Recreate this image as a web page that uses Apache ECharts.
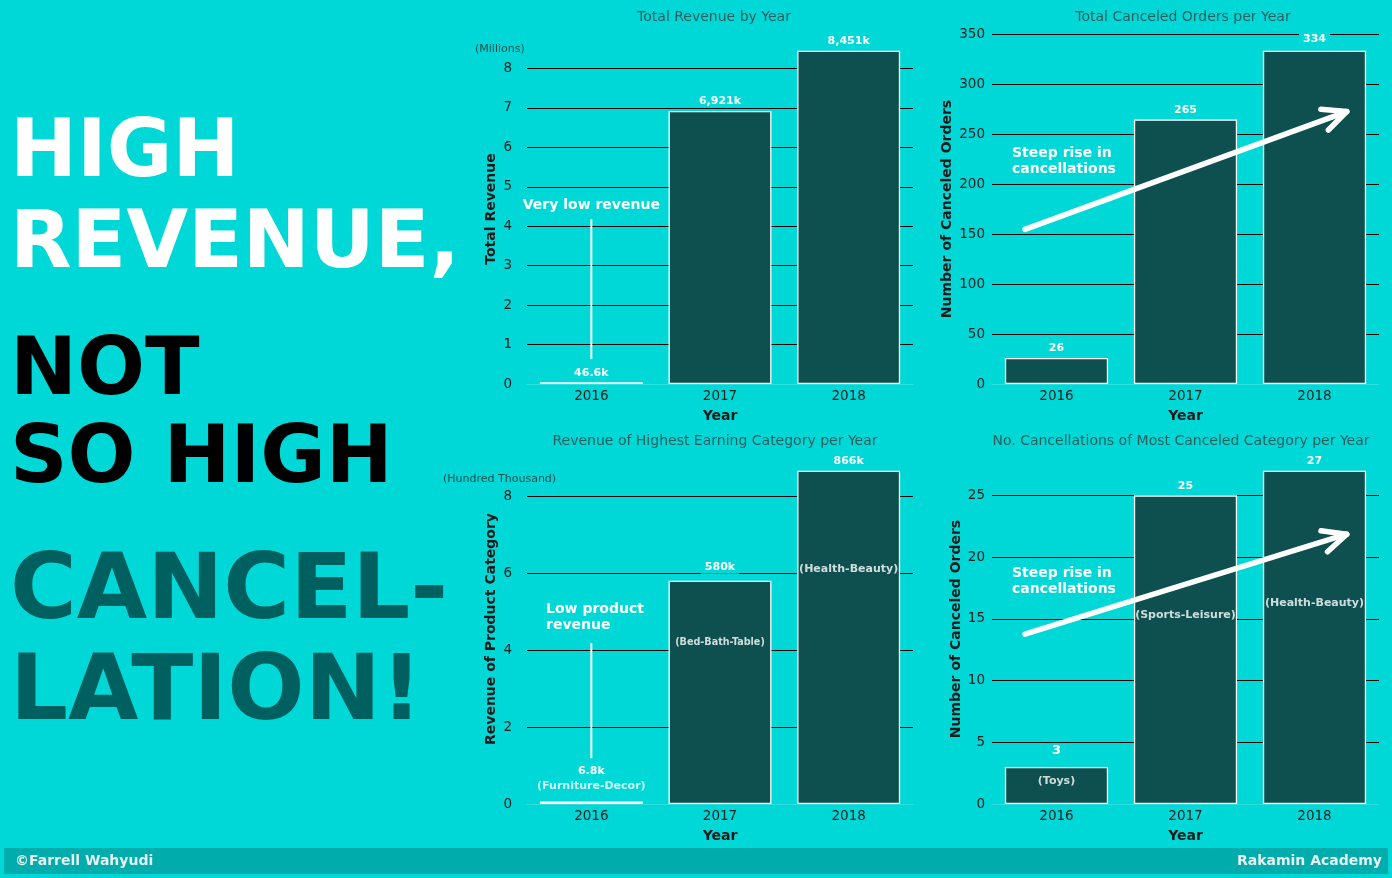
<!DOCTYPE html>
<html>
<head>
<meta charset="utf-8">
<script src="https://cdn.jsdelivr.net/npm/echarts@6/dist/echarts.min.js"></script>
<style>
  html, body { margin: 0; padding: 0; background: #00D8D8; }
  #main { width: 1392px; height: 878px; }
</style>
</head>
<body>
<div id="main"></div>
<script>
// data
const years = ['2016', '2017', '2018'];

const revenueMillions = [0.0466, 6.921, 8.451];
const revenueLabels = ['46.6k', '6,921k', '8,451k'];

const canceledOrders = [26, 265, 334];

const topCategoryRevenue = [0.068, 5.80, 8.66];   // hundred thousand
const topCategoryRevenueLabels = ['6.8k', '580k', '866k'];
const topCategoryNames = ['(Furniture-Decor)', '(Bed-Bath-Table)', '(Health-Beauty)'];

const topCanceledCount = [3, 25, 27];
const topCanceledNames = ['(Toys)', '(Sports-Leisure)', '(Health-Beauty)'];

// where the category names sit (data units)
const topCategoryNameY = [0.47, 4.21, 6.10];
const topCanceledNameY = [1.86, 15.3, 16.3];

const FONT = 'DejaVu Sans';
const BG = '#00D8D8';
const BAR = '#0E5050';

var chartDom = document.getElementById('main');
var myChart = echarts.init(chartDom);

// matplotlib style headroom: 5% above the tallest bar
function headroom(values) {
  return Math.max.apply(null, values) * 1.05;
}

function yAxis(gridIndex, max, interval, name, nameGap, margin) {
  return {
    type: 'value', gridIndex: gridIndex, min: 0, max: max, interval: interval,
    name: name, nameLocation: 'middle', nameGap: nameGap,
    nameTextStyle: { fontFamily: FONT, fontWeight: 'bold', fontSize: 14, color: '#1a1a1a' },
    axisLine: { show: false }, axisTick: { show: false },
    axisLabel: { fontFamily: FONT, fontSize: 13.5, color: '#222', margin: margin, showMaxLabel: false },
    splitLine: { show: true, showMinLine: false, showMaxLine: false, lineStyle: { color: '#000', width: 1 } }
  };
}

function xAxis(gridIndex) {
  return {
    type: 'category', gridIndex: gridIndex, data: years,
    name: 'Year', nameLocation: 'middle', nameGap: 25,
    nameTextStyle: { fontFamily: FONT, fontWeight: 'bold', fontSize: 14, color: '#1a1a1a' },
    axisLine: { show: true, lineStyle: { color: '#2ee0e0', width: 1 } },
    axisTick: { show: false },
    axisLabel: { fontFamily: FONT, fontSize: 13.5, color: '#222', margin: 5 }
  };
}

function barSeries(gridIndex, values, labels, overrides) {
  return {
    type: 'bar', xAxisIndex: gridIndex, yAxisIndex: gridIndex,
    barWidth: '80%',
    itemStyle: { color: BAR, borderColor: '#fff', borderWidth: 1.3 },
    label: {
      show: true, position: 'top', distance: 3,
      fontFamily: FONT, fontWeight: 'bold', fontSize: 11, color: '#fff',
      backgroundColor: BG, padding: [1, 4],
      formatter: p => labels[p.dataIndex]
    },
    data: values.map((v, i) => {
      const item = { value: v };
      if (overrides && overrides[i]) item.label = overrides[i];
      return item;
    })
  };
}

function nameSeries(gridIndex, names, ys, condensedIndex) {
  return {
    type: 'scatter', xAxisIndex: gridIndex, yAxisIndex: gridIndex,
    symbolSize: 0, silent: true, z: 5,
    label: {
      show: true, position: 'inside',
      fontFamily: FONT, fontWeight: 'bold', fontSize: 11, color: '#fff',
      formatter: p => names[p.dataIndex]
    },
    data: ys.map((y, i) => {
      const item = { value: [i, y] };
      if (i === condensedIndex) item.label = { fontFamily: 'DejaVu Sans Condensed', fontSize: 10.7 };
      return item;
    })
  };
}

function pointerSeries(gridIndex, from, to) {
  return {
    type: 'line', xAxisIndex: gridIndex, yAxisIndex: gridIndex,
    symbol: 'none', silent: true, z: 4,
    lineStyle: { color: '#fff', width: 2 },
    data: [from, to]
  };
}

var option;
option = {
  backgroundColor: BG,
  animation: false,
  grid: [
    { left: 527, top: 34, width: 386, height: 350 },
    { left: 992, top: 34, width: 387, height: 350 },
    { left: 527, top: 454, width: 386, height: 350 },
    { left: 992, top: 454, width: 387, height: 350 }
  ],
  xAxis: [xAxis(0), xAxis(1), xAxis(2), xAxis(3)],
  yAxis: [
    yAxis(0, headroom(revenueMillions), 1, 'Total Revenue', 29, 15),
    yAxis(1, headroom(canceledOrders), 50, 'Number of Canceled Orders', 38, 7),
    yAxis(2, headroom(topCategoryRevenue), 2, 'Revenue of Product Category', 29, 15),
    yAxis(3, headroom(topCanceledCount), 5, 'Number of Canceled Orders', 29, 7)
  ],
  series: [
    barSeries(0, revenueMillions, revenueLabels),
    pointerSeries(0, [0, 4.18], [0, 0.63]),
    barSeries(1, canceledOrders, canceledOrders.map(String), { 2: { distance: 5 } }),
    barSeries(2, topCategoryRevenue, topCategoryRevenueLabels, { 0: { distance: 24 }, 1: { distance: 7 } }),
    nameSeries(2, topCategoryNames, topCategoryNameY, 1),
    pointerSeries(2, [0, 4.18], [0, 1.19]),
    barSeries(3, topCanceledCount, topCanceledCount.map(String), { 0: { distance: 9, fontSize: 13 } }),
    nameSeries(3, topCanceledNames, topCanceledNameY, -1)
  ]
};
option && myChart.setOption(option);

// category axes snap to whole indices, so fractional positions are
// interpolated between the first two category centres
function toPixel(grid, at) {
  const a = myChart.convertToPixel({ gridIndex: grid }, [0, at[1]]);
  const b = myChart.convertToPixel({ gridIndex: grid }, [1, at[1]]);
  return [a[0] + (b[0] - a[0]) * at[0], a[1]];
}

// annotations, in data units of each grid
const notes = [
  { grid: 0, at: [0, 4.53], text: 'Very low revenue', align: 'center' },
  { grid: 1, at: [-0.345, 223], text: 'Steep rise in\ncancellations', align: 'left' },
  { grid: 2, at: [-0.352, 4.84], text: 'Low product\nrevenue', align: 'left' },
  { grid: 3, at: [-0.345, 18.0], text: 'Steep rise in\ncancellations', align: 'left' }
];
const arrows = [
  { grid: 1, from: [-0.244, 155], to: [2.25, 273] },
  { grid: 3, from: [-0.244, 13.75], to: [2.25, 21.85] }
];
const titles = [
  { x: 714, y: 17, text: 'Total Revenue by Year' },
  { x: 1183, y: 17, text: 'Total Canceled Orders per Year' },
  { x: 715, y: 441, text: 'Revenue of Highest Earning Category per Year' },
  { x: 1181, y: 441, text: 'No. Cancellations of Most Canceled Category per Year' }
];
const headline = [
  { text: 'HIGH', y: 155, size: 80, color: '#ffffff' },
  { text: 'REVENUE,', y: 246, size: 80, color: '#ffffff' },
  { text: 'NOT', y: 373.5, size: 80, color: '#000000' },
  { text: 'SO HIGH', y: 461.5, size: 80, color: '#000000' },
  { text: 'CANCEL-', y: 594, size: 91, color: '#006060' },
  { text: 'LATION!', y: 695.5, size: 91, color: '#006060' }
];

var graphics = [];

headline.forEach(h => graphics.push({
  type: 'text', x: 10, y: h.y, silent: true,
  style: { text: h.text, fill: h.color, font: 'bold ' + h.size + 'px "' + FONT + '"', align: 'left', verticalAlign: 'middle' }
}));

titles.forEach(t => graphics.push({
  type: 'text', x: t.x, y: t.y, silent: true,
  style: { text: t.text, fill: '#2b5e5e', font: '14px "' + FONT + '"', align: 'center', verticalAlign: 'middle' }
}));

graphics.push({ type: 'text', x: 475, y: 49, silent: true,
  style: { text: '(Millions)', fill: '#1f4f4f', font: '11px "' + FONT + '"', align: 'left', verticalAlign: 'middle' } });
graphics.push({ type: 'text', x: 443, y: 479, silent: true,
  style: { text: '(Hundred Thousand)', fill: '#1f4f4f', font: '11px "' + FONT + '"', align: 'left', verticalAlign: 'middle' } });

notes.forEach(n => {
  const p = toPixel(n.grid, n.at);
  graphics.push({
    type: 'text', x: p[0], y: p[1], silent: true, z: 10,
    style: { text: n.text, fill: '#fff', font: 'bold 14px "' + FONT + '"', lineHeight: 16, align: n.align, verticalAlign: 'middle' }
  });
});

arrows.forEach(a => {
  const p0 = toPixel(a.grid, a.from);
  const p1 = toPixel(a.grid, a.to);
  const ang = Math.atan2(p0[1] - p1[1], p0[0] - p1[0]);
  const len = 26, spread = 25 * Math.PI / 180;
  const h1 = [p1[0] + len * Math.cos(ang + spread), p1[1] + len * Math.sin(ang + spread)];
  const h2 = [p1[0] + len * Math.cos(ang - spread), p1[1] + len * Math.sin(ang - spread)];
  const st = { stroke: '#fff', lineWidth: 5.5, lineCap: 'round', lineJoin: 'round', fill: null };
  graphics.push({ type: 'polyline', silent: true, z: 10, shape: { points: [p0, p1] }, style: st });
  graphics.push({ type: 'polyline', silent: true, z: 10, shape: { points: [h1, p1, h2] }, style: st });
});

// footer band
graphics.push({ type: 'rect', silent: true, shape: { x: 4, y: 848, width: 1384, height: 26 }, style: { fill: '#00ACAC' } });
graphics.push({ type: 'text', x: 15, y: 861, silent: true, z: 5,
  style: { text: '©Farrell Wahyudi', fill: '#e6f0f0', font: 'bold 14px "' + FONT + '"', align: 'left', verticalAlign: 'middle' } });
graphics.push({ type: 'text', x: 1382, y: 861, silent: true, z: 5,
  style: { text: 'Rakamin Academy', fill: '#e6f0f0', font: 'bold 14px "' + FONT + '"', align: 'right', verticalAlign: 'middle' } });

myChart.setOption({ graphic: graphics });
</script>
</body>
</html>
